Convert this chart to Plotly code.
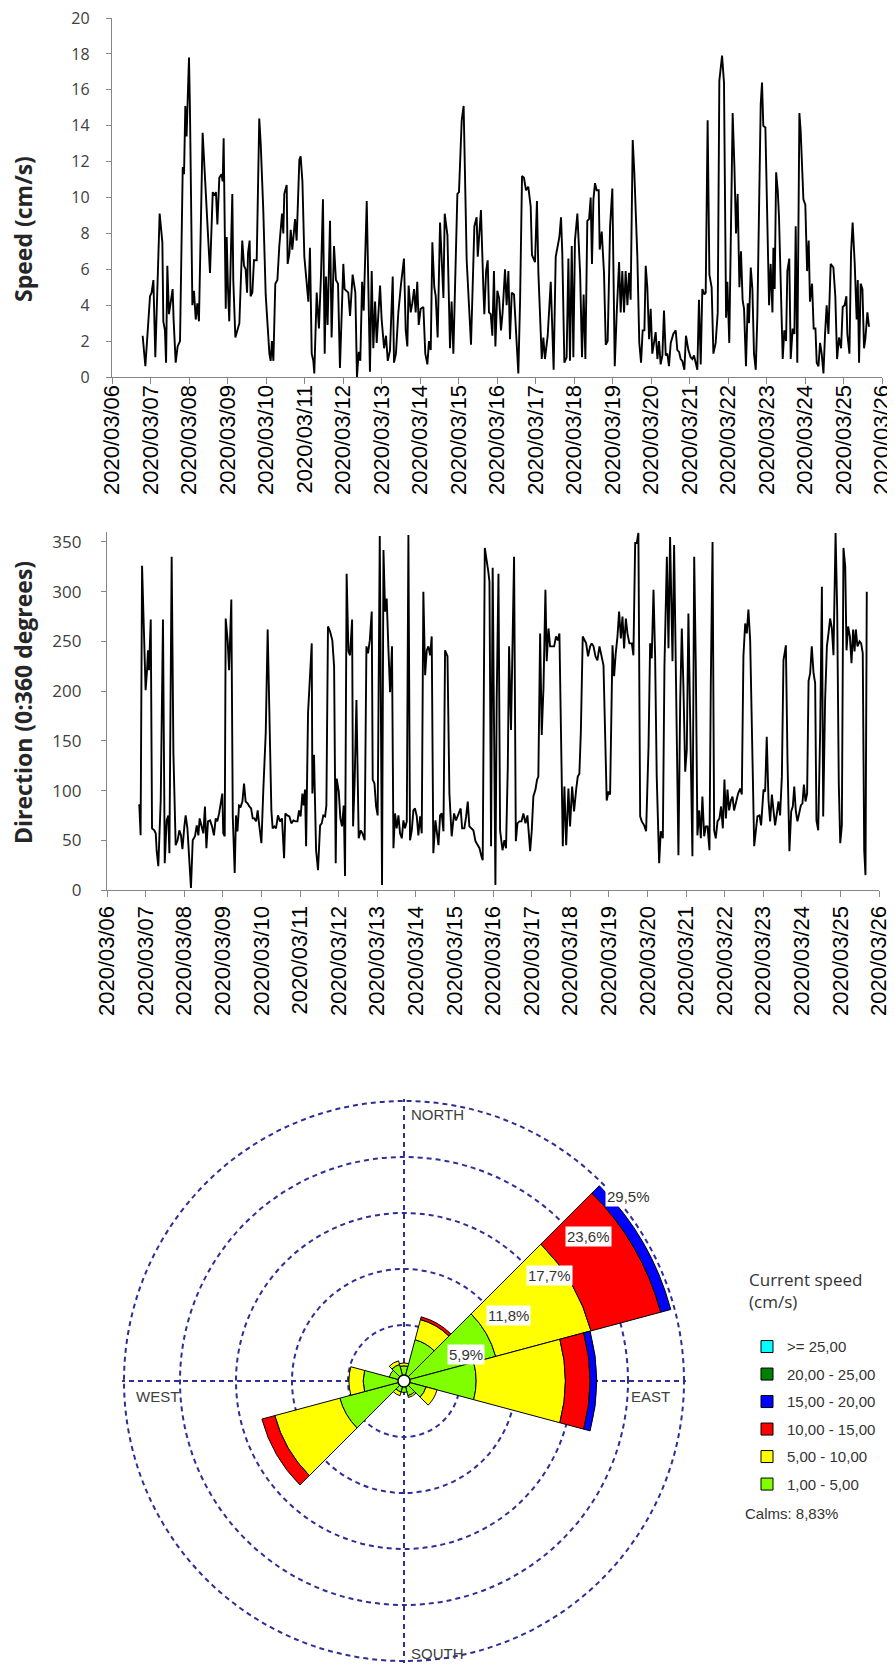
import pandas as pd
import plotly.graph_objects as go

# The page body has an 8px margin, so the figure is sized to the visible area
# and every layout position below is given in page pixels, then converted.
PAGE_W, PAGE_H, OFF = 895, 1664, 8
WF, HF = PAGE_W - OFF, PAGE_H - OFF


def fx(x):
    return (x - OFF) / WF


def fy(y):
    return 1 - (y - OFF) / HF


# ---------------- time series data (hours after 2020-03-06 00:00) ----------------
speed_hours = [
    19.1, 20.8, 23.7, 24.7, 25.8, 27.0, 29.7, 31.4, 32.0, 33.0,
    33.7, 34.5, 35.5, 36.6, 37.8, 38.4, 39.7, 40.9, 42.4, 44.1,
    44.9, 45.7, 46.5, 47.2, 48.0, 48.6, 50.1, 51.1, 52.2, 53.2,
    54.2, 56.5, 58.2, 59.4, 61.1, 62.8, 63.8, 64.8, 65.7, 66.9,
    68.2, 69.0, 69.6, 70.9, 71.5, 72.3, 73.1, 75.0, 75.6, 76.9,
    78.3, 79.4, 81.2, 82.3, 83.3, 84.2, 84.8, 85.8, 86.4, 87.5,
    88.5, 90.2, 91.8, 92.7, 94.3, 95.8, 98.1, 98.9, 99.7, 100.6,
    101.8, 103.1, 104.3, 106.0, 106.8, 107.4, 108.9, 109.5, 110.6, 111.4,
    112.4, 114.1, 115.1, 116.8, 117.6, 118.7, 119.9, 121.4, 122.4, 123.4,
    124.5, 125.5, 126.1, 127.6, 129.0, 130.3, 131.5, 132.6, 133.4, 134.4,
    135.9, 136.9, 138.4, 139.6, 140.9, 142.1, 144.2, 145.0, 147.3, 148.4,
    150.0, 151.7, 152.7, 153.8, 154.8, 155.9, 156.9, 158.8, 159.8, 160.8,
    161.9, 162.9, 164.0, 165.0, 167.1, 168.1, 169.6, 170.8, 171.9, 173.3,
    175.0, 175.8, 177.0, 178.5, 180.2, 182.0, 183.1, 184.1, 184.9, 186.2,
    187.2, 188.3, 189.3, 190.3, 191.2, 192.4, 194.1, 195.3, 196.6, 197.6,
    198.7, 199.7, 200.9, 201.8, 203.0, 204.5, 206.6, 207.4, 209.1, 210.7,
    211.7, 212.8, 215.3, 216.3, 218.0, 219.2, 221.1, 223.8, 225.9, 227.3,
    228.0, 229.0, 230.0, 231.5, 232.1, 233.2, 234.2, 235.0, 236.1, 237.1,
    238.1, 239.0, 240.2, 241.3, 242.5, 243.5, 245.0, 246.0, 247.1, 248.1,
    249.2, 250.6, 251.9, 253.3, 254.4, 255.6, 256.8, 258.1, 259.5, 261.0,
    261.8, 263.7, 264.9, 265.8, 267.9, 268.9, 269.9, 271.6, 273.5, 275.3,
    276.6, 277.8, 278.9, 279.9, 280.7, 282.0, 283.4, 284.5, 285.5, 286.6,
    287.6, 288.6, 290.1, 291.8, 293.0, 294.0, 295.1, 296.3, 297.4, 298.4,
    299.2, 300.1, 301.1, 302.1, 303.4, 304.0, 305.3, 306.7, 307.8, 309.0,
    310.5, 311.9, 313.4, 314.6, 316.1, 317.1, 318.1, 319.2, 320.2, 321.3,
    322.3, 323.3, 324.6, 325.6, 327.5, 328.7, 329.8, 330.8, 331.9, 332.7,
    333.7, 334.8, 335.8, 336.8, 337.9, 338.9, 340.0, 341.0, 342.0, 343.1,
    344.1, 345.2, 346.2, 347.2, 348.3, 349.9, 351.4, 352.4, 353.5, 354.5,
    355.5, 356.8, 357.8, 359.3, 360.7, 361.8, 362.8, 363.9, 364.9, 365.9,
    367.0, 368.0, 369.3, 370.1, 371.3, 372.4, 373.8, 374.9, 376.3, 377.6,
    378.6, 380.3, 381.5, 382.8, 383.6, 384.8, 385.9, 386.9, 388.0, 389.0,
    390.0, 391.1, 392.1, 393.1, 394.0, 395.2, 396.3, 397.1, 398.2, 399.2,
    400.2, 401.3, 402.3, 403.5, 404.4, 405.2, 406.0, 407.3, 408.5, 409.6,
    410.6, 411.7, 412.3, 413.1, 414.0, 415.0, 415.8, 416.9, 418.1, 419.1,
    420.2, 421.0, 422.2, 423.1, 424.3, 425.4, 426.2, 427.2, 428.5, 429.3,
    431.0, 432.2, 433.3, 434.3, 435.1, 436.4, 437.4, 438.5, 439.3, 440.4,
    441.4, 442.4, 443.5, 444.5, 445.5, 446.6, 448.0, 449.7, 450.9, 452.0,
    453.2, 454.5, 455.5, 456.7, 457.8, 458.4, 459.7, 460.7, 461.7, 463.0,
    464.2, 464.9, 465.7, 466.7, 467.8, 468.8, 469.6, 470.9, 471.9,
]
speed_values = [
    2.3, 0.6, 4.5, 4.7, 5.4, 1.1, 9.1, 7.5, 3.1, 2.6,
    0.8, 6.2, 3.5, 4.2, 4.9, 3.2, 0.8, 1.7, 2.0, 11.7,
    11.3, 15.1, 13.4, 15.5, 17.8, 14.9, 4.0, 4.8, 3.2, 4.1,
    3.1, 13.6, 10.6, 8.4, 5.8, 10.3, 10.1, 10.3, 8.5, 11.1,
    11.3, 10.9, 13.3, 3.8, 7.8, 4.9, 3.1, 10.2, 5.4, 2.2,
    2.7, 3.0, 7.6, 6.2, 6.0, 4.7, 6.9, 7.6, 4.5, 4.7,
    6.5, 6.5, 14.4, 13.0, 9.3, 4.6, 1.3, 0.9, 2.0, 0.9,
    5.2, 5.4, 7.3, 9.1, 8.0, 10.2, 10.7, 6.3, 6.9, 8.2,
    7.1, 8.8, 7.6, 12.1, 12.3, 10.9, 6.7, 5.2, 4.2, 7.2,
    1.3, 0.9, 0.2, 4.7, 2.7, 5.7, 9.9, 1.3, 5.6, 2.9,
    8.7, 2.2, 7.3, 5.4, 5.2, 0.5, 6.3, 4.9, 4.7, 3.4,
    5.7, 4.7, 0.0, 1.4, 0.9, 5.3, 3.7, 9.8, 5.4, 0.3,
    5.9, 1.6, 4.2, 1.9, 5.1, 3.2, 1.6, 2.3, 0.9, 1.5,
    5.6, 0.8, 1.3, 3.6, 5.2, 6.6, 2.6, 1.7, 5.1, 3.6,
    4.1, 4.9, 3.6, 5.3, 2.9, 3.8, 3.9, 1.3, 0.7, 2.0,
    1.5, 7.5, 5.0, 4.5, 2.2, 8.6, 4.4, 9.1, 7.9, 1.6,
    4.2, 1.3, 10.2, 10.3, 14.3, 15.1, 6.5, 1.8, 8.4, 8.9,
    6.7, 7.8, 9.3, 4.9, 3.5, 5.9, 6.5, 3.6, 3.5, 2.3,
    5.9, 1.7, 4.8, 4.4, 2.6, 3.6, 6.0, 4.0, 5.9, 2.1,
    4.7, 4.6, 2.4, 0.2, 4.3, 11.2, 11.1, 10.4, 10.6, 9.5,
    6.8, 6.4, 9.8, 5.8, 1.0, 2.2, 1.0, 2.3, 5.3, 0.4,
    6.7, 7.2, 7.8, 8.9, 6.9, 0.8, 1.1, 6.6, 0.9, 7.3,
    1.1, 7.6, 9.1, 5.8, 1.1, 4.6, 1.0, 8.7, 8.8, 10.0,
    6.3, 9.9, 10.8, 10.4, 10.4, 7.1, 8.1, 5.8, 1.8, 2.0,
    8.4, 10.5, 0.6, 3.5, 6.4, 3.6, 5.9, 3.6, 5.9, 4.0,
    5.8, 4.3, 13.2, 11.4, 6.7, 1.9, 0.8, 2.6, 2.6, 6.2,
    5.0, 2.1, 3.8, 1.3, 1.9, 2.5, 1.0, 2.0, 0.7, 1.2,
    3.7, 1.2, 1.3, 0.6, 1.9, 2.4, 2.6, 1.5, 1.4, 1.0,
    0.9, 0.4, 2.3, 1.5, 1.1, 1.0, 1.2, 0.8, 0.4, 4.3,
    0.7, 4.9, 4.6, 4.7, 14.3, 5.7, 5.0, 1.3, 1.9, 3.6,
    16.5, 17.9, 16.4, 3.3, 5.3, 1.9, 9.9, 14.7, 11.7, 8.0,
    10.2, 5.0, 7.0, 4.3, 3.8, 0.6, 4.1, 3.0, 6.1, 4.9,
    1.3, 0.4, 3.4, 9.5, 15.2, 16.4, 14.0, 13.9, 8.4, 4.0,
    6.3, 3.6, 7.2, 4.9, 11.4, 10.4, 8.9, 4.5, 1.0, 2.6,
    2.0, 5.9, 6.6, 1.0, 2.7, 2.4, 8.4, 0.8, 14.7, 13.7,
    9.9, 9.6, 5.9, 7.6, 4.2, 5.2, 2.7, 2.7, 0.8, 0.6,
    1.9, 1.3, 0.2, 2.4, 4.0, 2.4, 6.3, 6.1, 4.5, 1.0,
    2.2, 1.6, 3.9, 4.0, 4.5, 2.4, 1.3, 6.9, 8.6, 6.3,
    3.2, 5.4, 0.8, 5.2, 4.9, 1.6, 2.1, 3.6, 2.8,
]

dir_hours = [
    19.7, 20.1, 20.9, 21.8, 23.0, 24.0, 24.9, 25.5, 26.1, 27.2,
    28.0, 29.4, 30.3, 30.9, 31.9, 33.4, 34.8, 35.9, 37.1, 38.1,
    38.8, 40.2, 41.3, 42.7, 43.9, 45.0, 46.0, 46.9, 48.1, 48.9,
    50.0, 51.0, 52.2, 53.3, 54.7, 55.8, 56.8, 57.6, 58.7, 59.9,
    60.9, 61.8, 62.8, 64.1, 65.3, 66.5, 67.6, 68.6, 69.7, 70.7,
    71.7, 72.3, 73.2, 73.8, 75.0, 75.9, 77.3, 78.2, 79.4, 80.2,
    81.1, 82.1, 83.1, 84.2, 85.2, 86.2, 87.5, 88.5, 89.6, 90.6,
    91.6, 92.7, 93.7, 94.5, 96.0, 97.2, 98.7, 99.9, 101.0, 102.2,
    103.0, 104.1, 105.1, 106.3, 107.6, 108.8, 110.1, 110.9, 112.1, 113.4,
    114.6, 115.9, 117.1, 118.4, 119.4, 120.4, 121.5, 122.3, 123.1, 123.8,
    125.0, 126.2, 127.3, 127.7, 128.7, 130.0, 131.2, 132.5, 133.5, 134.5,
    135.6, 136.4, 137.4, 138.7, 140.1, 141.2, 142.2, 142.8, 144.1, 145.1,
    146.1, 147.2, 148.0, 149.0, 150.1, 151.1, 152.4, 153.0, 154.0, 155.1,
    156.5, 157.8, 158.8, 160.2, 161.3, 162.3, 163.4, 164.6, 165.2, 166.3,
    167.3, 168.3, 169.6, 171.0, 171.9, 172.9, 173.9, 175.0, 176.0, 177.2,
    178.1, 179.1, 180.1, 181.2, 182.2, 183.3, 184.3, 185.3, 186.4, 187.4,
    188.4, 189.5, 190.5, 191.5, 192.6, 193.6, 194.7, 195.7, 196.7, 197.8,
    198.8, 199.8, 200.9, 201.9, 202.9, 204.2, 205.0, 206.1, 207.1, 208.1,
    209.2, 210.2, 211.7, 212.9, 214.3, 215.8, 217.0, 218.5, 219.9, 220.8,
    222.2, 223.3, 224.3, 225.3, 226.8, 227.8, 229.1, 230.3, 231.6, 232.8,
    233.6, 234.9, 236.1, 237.1, 237.8, 238.8, 239.8, 240.7, 241.5, 242.3,
    243.4, 244.4, 245.9, 247.1, 248.1, 249.2, 250.0, 251.2, 252.1, 253.1,
    254.2, 255.2, 256.4, 257.7, 258.9, 260.2, 261.4, 263.1, 264.1, 265.1,
    266.4, 267.4, 268.2, 269.3, 270.3, 271.4, 272.6, 273.4, 274.5, 275.5,
    276.7, 278.0, 279.2, 280.3, 281.3, 282.5, 283.4, 284.4, 285.5, 286.9,
    287.9, 289.2, 290.4, 291.7, 292.7, 293.7, 294.6, 295.8, 296.9, 297.9,
    299.1, 300.4, 301.4, 302.5, 303.7, 304.9, 306.2, 307.6, 308.7, 309.7,
    310.7, 311.8, 312.8, 314.3, 315.3, 316.3, 317.4, 318.4, 319.5, 320.5,
    321.5, 322.6, 323.6, 324.8, 326.3, 327.3, 328.4, 329.4, 330.4, 331.5,
    332.5, 334.0, 335.2, 336.7, 337.7, 338.7, 339.8, 340.8, 341.8, 343.3,
    344.3, 345.6, 346.6, 348.1, 349.1, 350.1, 351.6, 352.6, 353.9, 355.3,
    356.4, 357.4, 358.4, 359.5, 360.5, 361.5, 362.6, 364.0, 365.1, 366.1,
    367.1, 368.2, 369.2, 370.2, 371.3, 372.3, 373.4, 374.6, 375.4, 376.5,
    377.5, 378.5, 379.6, 380.8, 381.8, 382.9, 383.9, 384.8, 385.8, 386.8,
    387.9, 388.9, 389.9, 391.2, 392.4, 393.7, 394.7, 395.7, 396.8, 397.8,
    398.8, 399.9, 401.3, 402.4, 403.6, 404.4, 405.7, 406.7, 408.2, 409.2,
    410.2, 411.3, 412.3, 413.4, 414.4, 415.4, 416.5, 417.5, 418.5, 419.6,
    420.6, 422.1, 423.1, 424.3, 425.4, 426.4, 427.3, 428.3, 429.3, 430.4,
    431.4, 432.4, 433.3, 434.3, 435.3, 436.2, 437.2, 438.2, 439.3, 440.3,
    441.1, 442.2, 443.4, 444.5, 445.3, 446.5, 447.6, 448.6, 449.6, 450.7,
    451.7, 453.0, 454.0, 455.0, 455.9, 456.9, 457.9, 459.0, 459.8, 460.8,
    461.9, 462.9, 463.9, 464.8, 465.6, 466.6, 467.9, 468.9, 469.9, 470.8,
    471.6, 472.4,
]
dir_values = [
    86, 85, 55, 326, 258, 201, 221, 241, 221, 272,
    62, 60, 57, 39, 24, 90, 272, 27, 70, 75,
    37, 335, 137, 45, 50, 60, 55, 41, 64, 75,
    62, 37, 2, 50, 54, 65, 55, 72, 65, 57,
    84, 42, 69, 70, 64, 55, 72, 69, 77, 87,
    97, 57, 54, 273, 251, 221, 292, 74, 17, 75,
    59, 85, 84, 89, 107, 89, 87, 84, 82, 72,
    72, 69, 80, 67, 47, 101, 158, 262, 164, 80,
    62, 64, 62, 75, 69, 72, 32, 77, 75, 74,
    67, 70, 69, 69, 80, 74, 97, 85, 101, 44,
    178, 223, 248, 97, 136, 40, 20, 65, 67, 75,
    74, 85, 265, 260, 251, 225, 27, 112, 99, 72,
    64, 85, 14, 318, 240, 236, 272, 64, 111, 191,
    52, 60, 57, 50, 245, 238, 251, 280, 111, 107,
    84, 75, 356, 5, 342, 280, 293, 241, 199, 245,
    42, 77, 62, 75, 57, 52, 70, 62, 69, 357,
    50, 60, 80, 82, 74, 55, 74, 57, 300, 216,
    241, 245, 236, 255, 37, 70, 57, 45, 75, 77,
    59, 241, 235, 97, 54, 77, 70, 77, 82, 62,
    62, 74, 89, 64, 62, 60, 49, 45, 42, 34,
    30, 344, 332, 320, 310, 44, 324, 114, 5, 191,
    318, 60, 40, 50, 42, 124, 245, 161, 238, 335,
    49, 67, 69, 69, 77, 67, 75, 39, 60, 94,
    101, 111, 114, 258, 156, 204, 302, 230, 263, 245,
    245, 245, 255, 251, 258, 121, 44, 104, 45, 102,
    64, 104, 79, 101, 114, 117, 158, 255, 251, 248,
    235, 245, 248, 245, 235, 231, 245, 235, 226, 158,
    90, 99, 96, 246, 215, 238, 255, 280, 253, 275,
    243, 273, 258, 248, 248, 236, 349, 349, 359, 74,
    69, 65, 59, 144, 248, 233, 302, 235, 114, 27,
    59, 52, 225, 335, 243, 355, 230, 347, 174, 35,
    191, 263, 204, 119, 141, 278, 171, 34, 335, 225,
    55, 80, 52, 94, 54, 64, 64, 40, 204, 350,
    60, 52, 69, 72, 84, 62, 111, 72, 101, 80,
    90, 94, 80, 90, 97, 102, 96, 235, 268, 258,
    282, 251, 144, 44, 62, 74, 75, 65, 101, 99,
    154, 90, 69, 96, 80, 65, 77, 89, 75, 114,
    231, 246, 131, 39, 79, 84, 104, 79, 69, 79,
    85, 87, 106, 89, 97, 210, 218, 245, 218, 208,
    70, 60, 158, 305, 74, 191, 245, 258, 273, 263,
    236, 359, 282, 107, 47, 65, 344, 325, 241, 265,
    255, 228, 262, 240, 262, 245, 250, 248, 238, 40,
    15, 300,
]

tick_dates = ["2020-03-%02d" % d for d in range(6, 27)]
tick_labels = ["2020/03/%02d" % d for d in range(6, 27)]

# ---------------- current rose data (% of time per 30 deg sector) ----------------
rose_directions = [0, 30, 60, 90, 120, 150, 180, 210, 240, 270, 300, 330]
speed_classes = ["1,00 - 5,00", "5,00 - 10,00", "10,00 - 15,00",
                 "15,00 - 20,00", "20,00 - 25,00", ">= 25,00"]
class_colors = ["#80FF00", "#FFFF00", "#FF0000", "#0000FF", "#008000", "#00FFFF"]
freq_1_5 = [1.6, 4.5, 10.0, 7.6, 2.4, 1.6, 1.2, 1.2, 7.0, 4.3, 1.6, 1.8]
freq_5_10 = [0.3, 2.2, 10.4, 9.4, 1.2, 0.2, 0.0, 0.4, 7.1, 1.5, 0.0, 0.4]
freq_10_15 = [0.0, 0.3, 7.6, 2.6, 0.0, 0.0, 0.0, 0.0, 1.4, 0.0, 0.0, 0.0]
freq_15_20 = [0.0, 0.0, 1.1, 0.7, 0.0, 0.0, 0.0, 0.0, 0.0, 0.0, 0.0, 0.0]
freq_20_25 = [0.0] * 12
freq_ge_25 = [0.0] * 12
ring_values = [5.9, 11.8, 17.7, 23.6, 29.5]
ring_labels = ["5,9%", "11,8%", "17,7%", "23,6%", "29,5%"]
compass_labels = ["NORTH", "EAST", "SOUTH", "WEST"]
calms_text = "Calms: 8,83%"
legend_title = "Current speed<br>(cm/s)<br> "

# ---------------- figure ----------------
t0 = pd.Timestamp("2020-03-06")
speed_time = t0 + pd.to_timedelta(speed_hours, unit="h")
dir_time = t0 + pd.to_timedelta(dir_hours, unit="h")

fig = go.Figure()
fig.add_trace(go.Scatter(x=speed_time, y=speed_values, mode="lines",
                         line=dict(color="black", width=1.9),
                         xaxis="x", yaxis="y", showlegend=False))
fig.add_trace(go.Scatter(x=dir_time, y=dir_values, mode="lines",
                         line=dict(color="black", width=1.9),
                         xaxis="x2", yaxis="y2", showlegend=False))

freqs = [freq_1_5, freq_5_10, freq_10_15, freq_15_20, freq_20_25, freq_ge_25]
n_cls = len(speed_classes)
for i, (name, col, vals) in enumerate(zip(speed_classes, class_colors, freqs)):
    fig.add_trace(go.Barpolar(
        r=[v if v > 0 else None for v in vals], theta=rose_directions,
        width=[30] * len(rose_directions), name=name, legendgroup=name,
        legendrank=100 + (n_cls - i),
        marker=dict(color=col, line=dict(color="black", width=1)),
        subplot="polar", showlegend=True))
fig.add_trace(go.Scatterpolar(r=[0], theta=[0], mode="markers",
                              marker=dict(size=12, color="white",
                                          line=dict(color="black", width=1.5)),
                              subplot="polar", showlegend=False, hoverinfo="skip"))

axis_col = "#868686"
tick_font_x = dict(family="Liberation Sans", size=22, color="black")


def date_axis(x0, x1, anchor, standoff):
    return dict(domain=[fx(x0), fx(x1)], anchor=anchor, type="date", automargin=False,
                range=[tick_dates[0], tick_dates[-1]],
                tickvals=tick_dates, ticktext=tick_labels, tickangle=-90,
                ticks="outside", ticklen=6, tickcolor=axis_col,
                showline=True, linecolor=axis_col, linewidth=1.3,
                showgrid=False, zeroline=False, tickfont=tick_font_x,
                ticklabelstandoff=standoff, ticklabeloverflow="allow")


# polar geometry in page pixels
cx, cy, R = 404, 1381, 280
r_max = 29.7
R_out = R * r_max / ring_values[-1]

fig.update_layout(
    width=WF, height=HF,
    margin=dict(l=0, r=0, t=0, b=0, pad=0, autoexpand=False),
    paper_bgcolor="white", plot_bgcolor="white",
    xaxis=date_axis(112, 882, "y", -8),
    yaxis=dict(domain=[fy(377), fy(18)], anchor="x", range=[0, 20], dtick=2,
               automargin=False, ticklabeloverflow="allow",
               ticks="outside", ticklen=5, tickcolor=axis_col, showline=True,
               linecolor=axis_col, linewidth=1.3, showgrid=False, zeroline=False,
               tickfont=dict(family="Open Sans", size=16, color="#404040"),
               ticklabelstandoff=13),
    xaxis2=date_axis(107, 879, "y2", 0),
    yaxis2=dict(domain=[fy(890), fy(532)], anchor="x2", range=[0, 360],
                automargin=False, ticklabeloverflow="allow",
                tickvals=[0, 50, 100, 150, 200, 250, 300, 350],
                ticks="outside", ticklen=5, tickcolor=axis_col, showline=True,
                linecolor=axis_col, linewidth=1.3, showgrid=False, zeroline=False,
                tickfont=dict(family="Open Sans", size=17, color="#404040"),
                ticklabelstandoff=16),
    polar=dict(
        domain=dict(x=[max(0, fx(cx - R_out)), min(1, fx(cx + R_out))],
                    y=[max(0, fy(cy + R_out)), min(1, fy(cy - R_out))]),
        bgcolor="white", barmode="stack",
        radialaxis=dict(range=[0, r_max], tickvals=ring_values, showticklabels=False,
                        ticks="", showline=False, gridcolor="#2E2E96", gridwidth=1.8,
                        griddash="5px,4px"),
        angularaxis=dict(rotation=90, direction="clockwise", tickvals=[0, 90, 180, 270],
                         showticklabels=False, ticks="", showline=False,
                         gridcolor="#2E2E96", gridwidth=1.8, griddash="5px,4px"),
    ),
    legend=dict(x=fx(747), y=fy(1264), xanchor="left", yanchor="top",
                traceorder="grouped", tracegroupgap=5,
                font=dict(family="Liberation Sans", size=15, color="#333333"),
                title=dict(text=legend_title,
                           font=dict(family="Open Sans", size=17, color="#333333")),
                bgcolor="rgba(0,0,0,0)"),
)

annotations = []
annotations.append(dict(text="<b>Speed (cm/s)</b>", x=fx(23), y=fy(229),
                        xref="paper", yref="paper", xanchor="center", yanchor="middle",
                        showarrow=False, textangle=-90,
                        font=dict(family="Open Sans", size=23, color="#262626")))
annotations.append(dict(text="<b>Direction (0:360 degrees)</b>", x=fx(23), y=fy(703),
                        xref="paper", yref="paper", xanchor="center", yanchor="middle",
                        showarrow=False, textangle=-90,
                        font=dict(family="Open Sans", size=23, color="#262626")))

cfont = dict(family="Liberation Sans", size=15, color="#404040")
compass_pos = [(cx + 5, cy - R + 13, "left"), (cx + R - 12, cy + 15, "right"),
               (cx + 5, cy + R - 8, "left"), (cx - R + 10, cy + 15, "left")]
for lab, (px, py, anc) in zip(compass_labels, compass_pos):
    annotations.append(dict(text=lab, x=fx(px), y=fy(py), xref="paper", yref="paper",
                            xanchor=anc, yanchor="middle", showarrow=False, font=cfont))
for val, lab in zip(ring_values, ring_labels):
    d = val / ring_values[-1] * R * 0.7071
    annotations.append(dict(text=lab, x=fx(cx + d + 3), y=fy(cy - d + 3),
                            xref="paper", yref="paper", xanchor="left", yanchor="top",
                            showarrow=False, bgcolor="white", borderpad=1,
                            font=dict(family="Liberation Sans", size=15, color="#333333")))
annotations.append(dict(text=calms_text, x=fx(743), y=fy(1513), xref="paper",
                        yref="paper", xanchor="left", yanchor="middle", showarrow=False,
                        font=dict(family="Liberation Sans", size=15, color="#333333")))
fig.update_layout(annotations=annotations)

fig.write_html("out.html")
